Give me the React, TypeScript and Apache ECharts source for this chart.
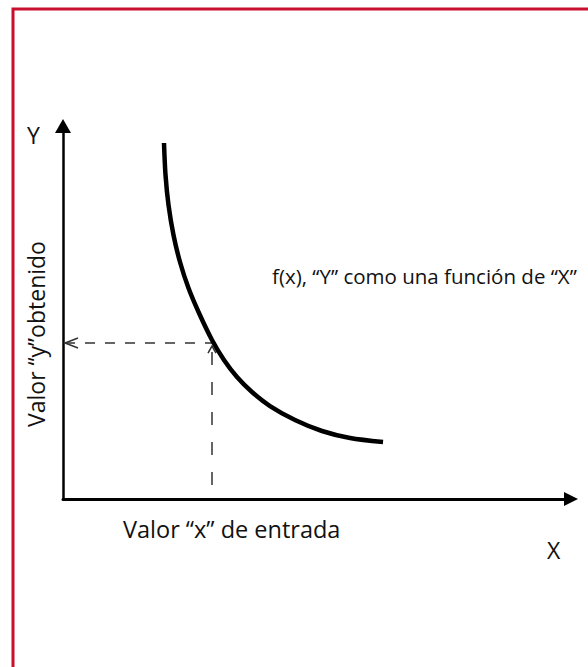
import React, { useEffect, useRef } from "react";
import * as echarts from "echarts";

// Curve f(x): values (abstract 0-100 units)
const curveX = [19.88, 20.18, 20.77, 21.75, 23.03, 24.7, 26.77, 29.33, 31.69, 34.25, 37.2, 40.75, 45.67, 50.98, 56.5, 63.0];
const curveY = [95.44, 86.86, 78.82, 70.78, 63.54, 56.57, 49.87, 42.63, 37.27, 32.71, 28.69, 24.93, 21.18, 18.23, 16.35, 15.28];
// Input / output point on the curve
const guidePoint = [29.33, 41.82];

const labelCurve = "f(x), “Y” como una función de “X”";
const labelXInput = "Valor “x” de entrada";
const labelYOutput = "Valor “y”obtenido";
const axisNameX = "X";
const axisNameY = "Y";

const FONT = "Open Sans";

export default function App() {
  const ref = useRef<HTMLDivElement>(null);
  useEffect(() => {
    if (!ref.current) return;
    const chart = echarts.init(ref.current, null, { renderer: "svg" });
    const curveData = curveX.map((x, i) => [x, curveY[i]]);
    const txt = (size: number, extra: any = {}) => ({
      fontFamily: FONT,
      fontSize: size,
      fill: "#111",
      verticalAlign: "middle",
      ...extra,
    });
    chart.setOption({
      animation: false,
      backgroundColor: "#ffffff",
      grid: { left: 63, right: 17, top: 126, bottom: 168 },
      xAxis: {
        type: "value",
        min: 0,
        max: 100,
        axisLine: {
          show: true,
          onZero: false,
          symbol: ["none", "triangle"],
          symbolSize: [14, 14],
          lineStyle: { color: "#000", width: 3 },
        },
        axisTick: { show: false },
        axisLabel: { show: false },
        splitLine: { show: false },
      },
      yAxis: {
        type: "value",
        min: 0,
        max: 100,
        axisLine: {
          show: true,
          onZero: false,
          symbol: ["none", "triangle"],
          symbolSize: [16, 14],
          lineStyle: { color: "#000", width: 2.5 },
        },
        axisTick: { show: false },
        axisLabel: { show: false },
        splitLine: { show: false },
      },
      series: [
        {
          type: "line",
          data: curveData,
          smooth: 0.3,
          showSymbol: false,
          lineStyle: { color: "#000", width: 4.5 },
          z: 5,
        },
        {
          type: "custom",
          data: [guidePoint],
          z: 3,
          renderItem: (params: any, api: any) => {
            const p = api.coord([api.value(0), api.value(1)]);
            const o = api.coord([0, 0]);
            const x0 = o[0] + 2;
            const stroke = "#333";
            return {
              type: "group",
              children: [
                {
                  type: "line",
                  shape: { x1: x0, y1: p[1], x2: p[0], y2: p[1] },
                  style: { stroke, lineWidth: 1.5, lineDash: [10, 10] },
                },
                {
                  type: "polyline",
                  shape: { points: [[x0 + 13, p[1] - 5], [x0, p[1]], [x0 + 13, p[1] + 5]] },
                  style: { stroke, lineWidth: 1.5, fill: "none" },
                },
                {
                  type: "line",
                  shape: { x1: p[0], y1: o[1] - 14, x2: p[0], y2: p[1] + 3 },
                  style: { stroke, lineWidth: 1.5, lineDash: [13, 17] },
                },
                {
                  type: "polyline",
                  shape: { points: [[p[0] - 4, p[1] + 10], [p[0], p[1] + 3], [p[0] + 4, p[1] + 10]] },
                  style: { stroke, lineWidth: 1.5, fill: "none" },
                },
              ],
            };
          },
        },
      ],
      graphic: [
        {
          type: "rect",
          shape: { x: 13, y: 9, width: 620, height: 700 },
          style: { fill: "none", stroke: "#c8102e", lineWidth: 3 },
          silent: true,
        },
        { type: "text", x: 27, y: 135, style: { text: axisNameY, ...txt(23) } },
        { type: "text", x: 547, y: 550, style: { text: axisNameX, ...txt(23) } },
        { type: "text", x: 272, y: 276, style: { text: labelCurve, ...txt(20.5) } },
        { type: "text", x: 123, y: 529, style: { text: labelXInput, ...txt(23.5) } },
        {
          type: "text",
          x: 36,
          y: 334,
          rotation: Math.PI / 2,
          style: { text: labelYOutput, ...txt(23, { align: "center" }) },
        },
      ],
    });
    return () => chart.dispose();
  }, []);
  return (
    <div
      ref={ref}
      style={{ position: "fixed", left: 0, top: 0, width: 588, height: 667 }}
    />
  );
}
